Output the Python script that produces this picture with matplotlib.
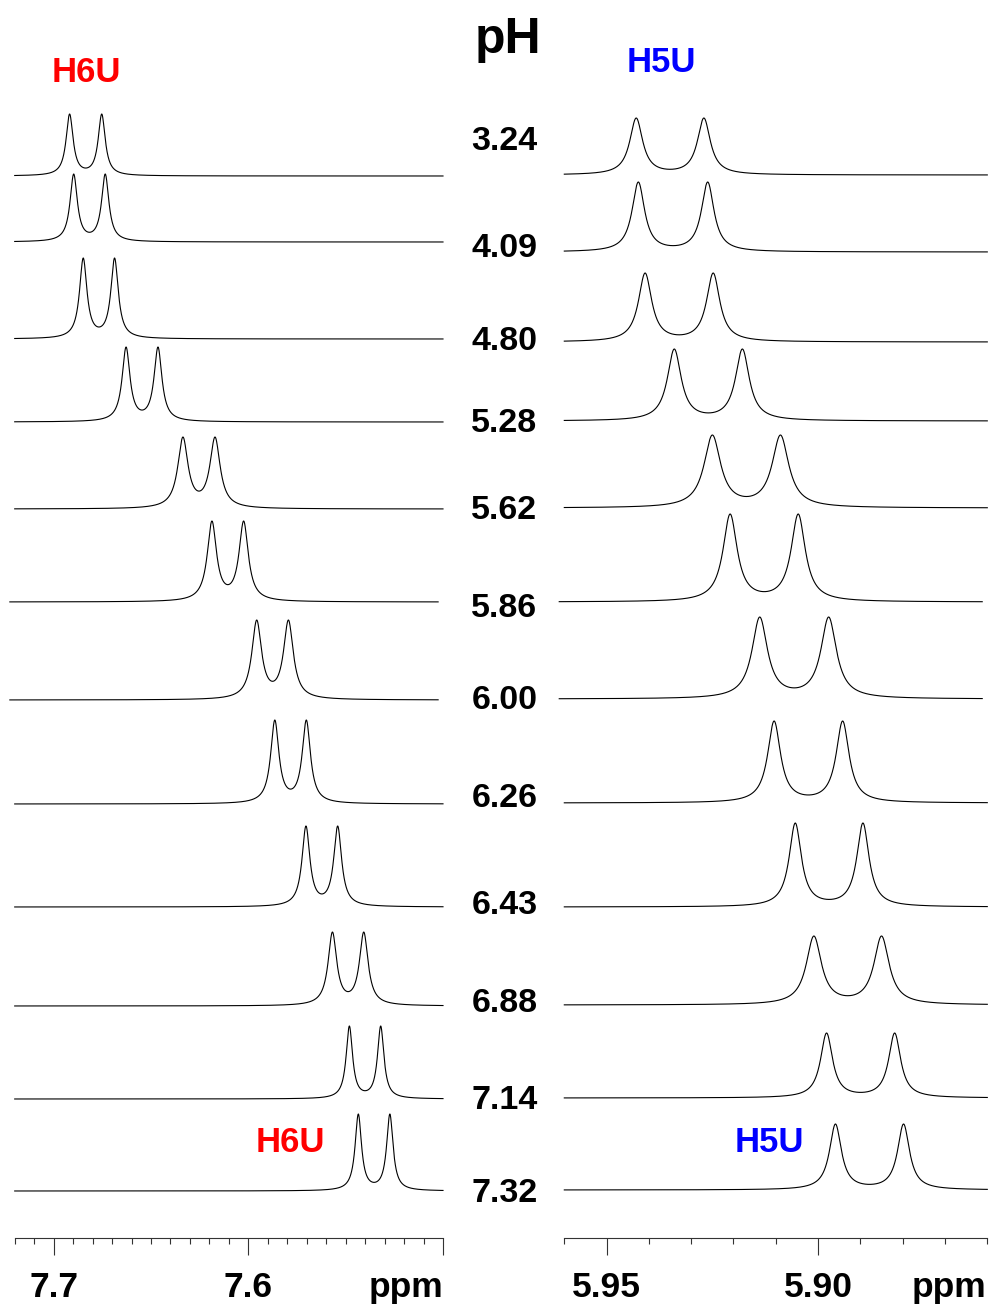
import numpy as np
import matplotlib.pyplot as plt
from matplotlib.ticker import MultipleLocator, FixedLocator

plt.rcParams['font.family'] = ['Liberation Sans', 'DejaVu Sans']
plt.rcParams['font.weight'] = 'bold'

# sample pH, top trace first
ph = ['3.24', '4.09', '4.80', '5.28', '5.62', '5.86',
      '6.00', '6.26', '6.43', '6.88', '7.14', '7.32']

# H6 doublet lines (ppm), half widths (ppm) and peak heights
h6_a = [7.6918, 7.6897, 7.6848, 7.6628, 7.6336, 7.6187,
        7.5957, 7.5864, 7.5704, 7.5568, 7.5481, 7.5435]
h6_b = [7.6753, 7.6735, 7.6687, 7.6464, 7.6171, 7.6024,
        7.5794, 7.5702, 7.5541, 7.5407, 7.5320, 7.5273]
h6_w = [0.00218, 0.00227, 0.00230, 0.00244, 0.00317, 0.00287,
        0.00302, 0.00256, 0.00244, 0.00268, 0.00199, 0.00199]
h6_h = [62, 68, 81, 75, 72, 81, 80, 84, 81, 74, 73, 77]

# H5 doublet lines
h5_a = [5.9430, 5.9425, 5.9409, 5.9340, 5.9250, 5.9208,
        5.9138, 5.9104, 5.9054, 5.9010, 5.8980, 5.8959]
h5_b = [5.9270, 5.9261, 5.9248, 5.9179, 5.9089, 5.9047,
        5.8975, 5.8942, 5.8894, 5.8850, 5.8819, 5.8798]
h5_w = [0.00185, 0.00180, 0.00190, 0.00198, 0.00238, 0.00203,
        0.00222, 0.00185, 0.00175, 0.00217, 0.00172, 0.00171]
h5_h = [57, 70, 69, 72, 73, 88, 82, 82, 84, 69, 65, 66]

# stacking: baseline of each trace, pixels from top of figure
W, H = 990, 1308
AX_Y = 1237.7
base6 = [176, 242, 339, 422, 509, 602, 700, 804, 907, 1006, 1099, 1191]
base5 = [175, 252, 342, 421, 508, 602, 699, 803, 907, 1005, 1098, 1190]
# a couple of traces were plotted slightly left of the rest
shift6 = [0, 0, 0, 0, 0, 0.0025, 0.0025, 0, 0, 0, 0, 0]
shift5 = [0, 0, 0, 0, 0, 0.0012, 0.0012, 0, 0, 0, 0, 0]


def doublet(x, c1, c2, g, h):
    y = 1 / (1 + ((x - c1) / g) ** 2) + 1 / (1 + ((x - c2) / g) ** 2)
    return y / y.max() * h


def panel(rect, lim, lines_a, lines_b, widths, heights, bases, shifts):
    ax = fig.add_axes(rect)
    ax.set_xlim(*lim)
    ax.set_ylim(0, AX_Y)
    for i in range(len(lines_a)):
        x = np.linspace(lim[0] + shifts[i], lim[1] + shifts[i], 3000)
        y = doublet(x, lines_a[i], lines_b[i], widths[i], heights[i])
        ax.plot(x, AX_Y - bases[i] + y, color='black', lw=0.8, clip_on=False)
    for s in ['top', 'left', 'right']:
        ax.spines[s].set_visible(False)
    ax.spines['bottom'].set_linewidth(0.8)
    ax.spines['bottom'].set_color('#333333')
    ax.set_yticks([])
    ax.tick_params(axis='x', which='major', length=12.5, width=0.8,
                   color='#333333', pad=11.5, labelsize=25.5)
    ax.tick_params(axis='x', which='minor', length=4.5, width=0.8,
                   color='#333333')
    return ax


fig = plt.figure(figsize=(W / 100, H / 100), dpi=100)
ax_h = 1 - (H - AX_Y) / H

ax6 = panel([14.7 / W, (H - AX_Y) / H, (443 - 14.7) / W, ax_h],
            (7.72, 7.50), h6_a, h6_b, h6_w, h6_h, base6, shift6)
ax6.xaxis.set_major_locator(FixedLocator([7.7, 7.6, 7.5]))
ax6.set_xticklabels(['7.7', '7.6', ''])
ax6.xaxis.set_minor_locator(MultipleLocator(0.01))

ax5 = panel([564.3 / W, (H - AX_Y) / H, (987.3 - 564.3) / W, ax_h],
            (5.96, 5.86), h5_a, h5_b, h5_w, h5_h, base5, shift5)
ax5.xaxis.set_major_locator(FixedLocator([5.95, 5.90]))
ax5.set_xticklabels(['5.95', '5.90'])
ax5.xaxis.set_minor_locator(MultipleLocator(0.01))


def ftext(x, y, s, **kw):
    fig.text(x / W, 1 - y / H, s, fontweight='bold', **kw)


ftext(443, 1296.7, 'ppm', ha='right', va='baseline', fontsize=25.5)
ftext(986, 1296.7, 'ppm', ha='right', va='baseline', fontsize=25.5)

ftext(508, 53.3, 'pH', ha='center', va='baseline', fontsize=36)
ph_y = [150, 256.7, 350, 432, 519, 617, 709, 807, 914, 1012, 1109, 1202]
for lab, yy in zip(ph, ph_y):
    ftext(537.5, yy, lab, ha='right', va='baseline', fontsize=24.5)

ftext(86, 72, 'H6U', ha='center', va='center', fontsize=25, color='#ff0000')
ftext(290.5, 1143, 'H6U', ha='center', va='center', fontsize=25, color='#ff0000')
ftext(661, 62, 'H5U', ha='center', va='center', fontsize=25, color='#0000ff')
ftext(769, 1143, 'H5U', ha='center', va='center', fontsize=25, color='#0000ff')

fig.savefig('out.png', dpi=100)
